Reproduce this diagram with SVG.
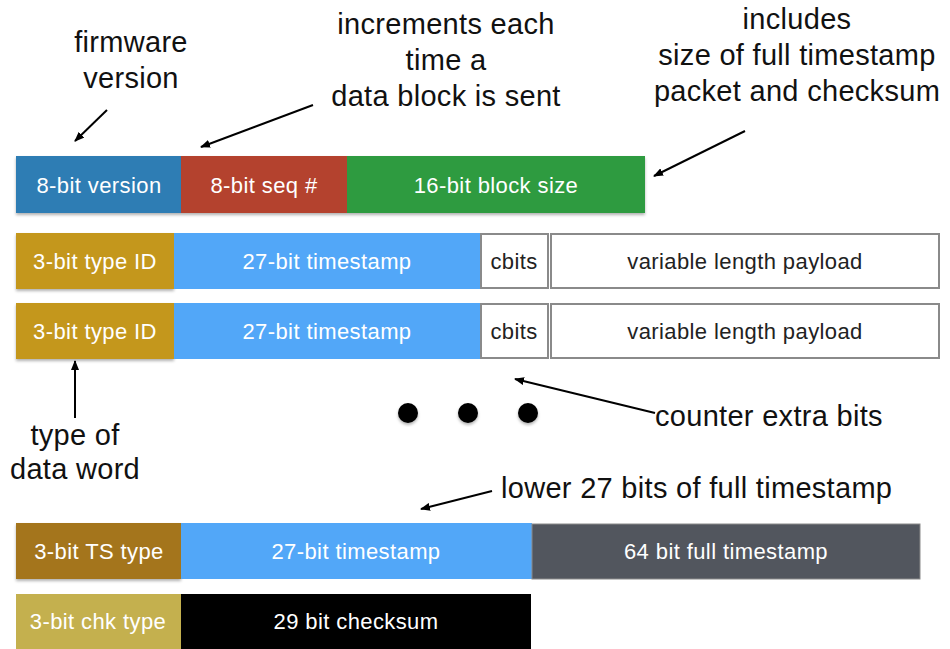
<svg xmlns="http://www.w3.org/2000/svg" width="950" height="649" viewBox="0 0 950 649">
<defs>
<marker id="ah" markerWidth="10" markerHeight="8" refX="9" refY="4" orient="auto" markerUnits="userSpaceOnUse">
<path d="M0,0 L10,4 L0,8 Z" fill="#000"/>
</marker>
<filter id="sh" x="-5%" y="-10%" width="110%" height="130%">
<feDropShadow dx="0" dy="2" stdDeviation="1.5" flood-color="#000" flood-opacity="0.3"/>
</filter>
</defs>
<style>
text{font-family:"Liberation Sans",Arial,sans-serif}
.lbl{fill:#fff;font-size:22px;letter-spacing:0.4px;text-anchor:middle}
.dk{fill:#222;font-size:22px;letter-spacing:0.4px;text-anchor:middle}
.ann{fill:#111;font-size:29px;letter-spacing:0.3px;text-anchor:middle}
.anl{fill:#111;font-size:29px;letter-spacing:0.3px;text-anchor:start}
.wb{fill:#fff;stroke:#8a8a8a;stroke-width:2}
.ar{stroke:#000;stroke-width:2;fill:none;marker-end:url(#ah)}
</style>
<rect width="950" height="649" fill="#fff"/>

<g id="header" filter="url(#sh)">
<rect x="16" y="156" width="165" height="57" fill="#2E7DB4"/>
<rect x="181" y="156" width="166" height="57" fill="#B4432F"/>
<rect x="347" y="156" width="298" height="57" fill="#2E9B3F"/>
</g>
<g id="header-text">
<text class="lbl" x="99" y="193">8-bit version</text>
<text class="lbl" x="264" y="193">8-bit seq #</text>
<text class="lbl" x="496" y="193">16-bit block size</text>
</g>

<g id="word1">
<rect x="16" y="233" width="158" height="56" fill="#C4971E" filter="url(#sh)"/>
<rect x="174" y="233" width="306" height="56" fill="#52A7F8"/>
<rect class="wb" x="481" y="234" width="67" height="54"/>
<rect class="wb" x="551" y="234" width="388" height="54"/>
<text class="lbl" x="95" y="269">3-bit type ID</text>
<text class="lbl" x="327" y="269">27-bit timestamp</text>
<text class="dk" x="514" y="269">cbits</text>
<text class="dk" x="745" y="269">variable length payload</text>
</g>

<g id="word2">
<rect x="16" y="303" width="158" height="56" fill="#C4971E" filter="url(#sh)"/>
<rect x="174" y="303" width="306" height="56" fill="#52A7F8"/>
<rect class="wb" x="481" y="304" width="67" height="54"/>
<rect class="wb" x="551" y="304" width="388" height="54"/>
<text class="lbl" x="95" y="339">3-bit type ID</text>
<text class="lbl" x="327" y="339">27-bit timestamp</text>
<text class="dk" x="514" y="339">cbits</text>
<text class="dk" x="745" y="339">variable length payload</text>
</g>

<g id="ellipsis" filter="url(#sh)">
<circle cx="408" cy="413" r="10" fill="#000"/>
<circle cx="468" cy="413" r="10" fill="#000"/>
<circle cx="528" cy="413" r="10" fill="#000"/>
</g>

<g id="timestamp-word">
<rect x="16" y="523" width="165" height="56" fill="#A4741A" filter="url(#sh)"/>
<rect x="181" y="523" width="351" height="56" fill="#52A7F8"/>
<rect x="532" y="524" width="388" height="55" fill="#52565E" stroke="#8a8a8a" stroke-width="1"/>
<text class="lbl" x="99" y="559">3-bit TS type</text>
<text class="lbl" x="356" y="559">27-bit timestamp</text>
<text class="lbl" x="726" y="559">64 bit full timestamp</text>
</g>

<g id="checksum-word">
<rect x="16" y="594" width="165" height="55" fill="#C4B04E"/>
<rect x="181" y="594" width="350" height="55" fill="#000"/>
<text class="lbl" x="98" y="629">3-bit chk type</text>
<text class="lbl" x="356" y="629">29 bit checksum</text>
</g>

<g id="annotations">
<text class="ann" x="131" y="52">firmware</text>
<text class="ann" x="131" y="88">version</text>
<text class="ann" x="446" y="34">increments each</text>
<text class="ann" x="446" y="70">time a</text>
<text class="ann" x="446" y="106">data block is sent</text>
<text class="ann" x="797" y="29">includes</text>
<text class="ann" x="797" y="65">size of full timestamp</text>
<text class="ann" x="797" y="101">packet and checksum</text>
<text class="ann" x="75" y="445">type of</text>
<text class="ann" x="75" y="479">data word</text>
<text class="anl" x="655" y="426">counter extra bits</text>
<text class="anl" x="501" y="498">lower 27 bits of full timestamp</text>
</g>

<g id="connectors">
<line class="ar" x1="107" y1="110" x2="75" y2="141"/>
<line class="ar" x1="313" y1="105" x2="201" y2="147"/>
<line class="ar" x1="745" y1="131" x2="654" y2="176"/>
<line class="ar" x1="75" y1="418" x2="75" y2="361"/>
<line class="ar" x1="655" y1="413" x2="515" y2="379"/>
<line class="ar" x1="492" y1="491" x2="421" y2="509"/>
</g>
</svg>
